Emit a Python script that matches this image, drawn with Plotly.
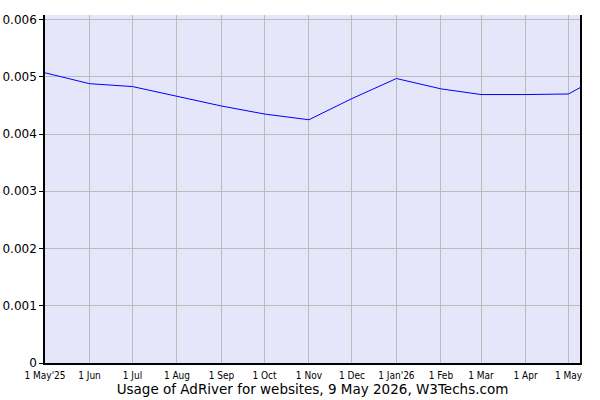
import plotly.graph_objects as go

dates = ["2025-05-01", "2025-06-01", "2025-07-01", "2025-08-01", "2025-09-01",
         "2025-10-01", "2025-11-01", "2025-12-01", "2026-01-01", "2026-02-01",
         "2026-03-01", "2026-04-01", "2026-05-01", "2026-05-09"]
usage = [0.00507, 0.00488, 0.00483, 0.00466, 0.00449, 0.00435, 0.00425,
         0.00462, 0.00497, 0.00479, 0.00469, 0.00469, 0.00470, 0.00481]

tick_vals = ["2025-05-01", "2025-06-01", "2025-07-01", "2025-08-01", "2025-09-01",
             "2025-10-01", "2025-11-01", "2025-12-01", "2026-01-01", "2026-02-01",
             "2026-03-01", "2026-04-01", "2026-05-01"]
tick_text = ["1 May'25", "1 Jun", "1 Jul", "1 Aug", "1 Sep", "1 Oct", "1 Nov",
             "1 Dec", "1 Jan'26", "1 Feb", "1 Mar", "1 Apr", "1 May"]

fig = go.Figure(go.Scatter(x=dates, y=usage, mode="lines",
                           line=dict(color="#0000ff", width=1)))

fig.update_layout(
    width=600, height=400,
    margin=dict(l=45, r=20, t=15, b=37, autoexpand=False),
    plot_bgcolor="#e6e6fa", paper_bgcolor="white",
    showlegend=False,
    font=dict(family="DejaVu Sans", color="black"),
)
fig.update_xaxes(
    range=["2025-05-01", "2026-05-09"],
    tickvals=tick_vals, ticktext=tick_text,
    tickfont=dict(family="DejaVu Sans Condensed", size=10),
    showgrid=True, gridcolor="#bbbbbb", gridwidth=1,
    showline=True, linecolor="black", linewidth=1.5,
    ticks="", ticklabelstandoff=2, automargin=False,
    title=dict(text="Usage of AdRiver for websites, 9 May 2026, W3Techs.com",
               font=dict(size=13.5), standoff=1),
)
fig.update_yaxes(
    range=[0, 0.00608],
    tickvals=[0, 0.001, 0.002, 0.003, 0.004, 0.005, 0.006],
    ticktext=["0", "0.001", "0.002", "0.003", "0.004", "0.005", "0.006"],
    tickfont=dict(size=12), automargin=False,
    showgrid=True, gridcolor="#bbbbbb", gridwidth=1,
    showline=True, linecolor="black", linewidth=1.5, mirror=True,
    ticks="outside", ticklen=4, tickcolor="black", zeroline=False,
)

# drop the default 8px page margin so the figure sits at the window corner
fig.write_html("out.html", config={"displayModeBar": False},
               post_script="document.body.style.margin='0';")
